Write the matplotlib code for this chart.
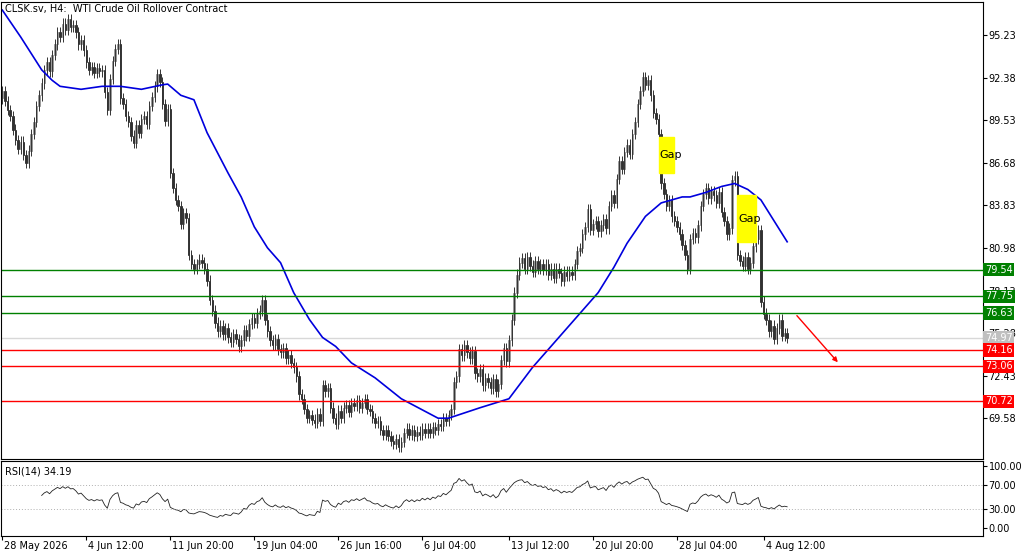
import numpy as np
import matplotlib
matplotlib.use("Agg")
import matplotlib.pyplot as plt
from matplotlib.patches import Rectangle

# H4 closes, one per bar
closes = [
    91.5, 90.8, 90.2, 89.8, 88.9, 88.2, 87.6, 88.1, 87.2, 86.7,
    87.5, 88.6, 89.4, 90.5, 91.2, 92.0, 92.9, 93.4, 92.8, 93.9,
    94.6, 95.4, 95.1, 96.0, 95.6, 96.3, 95.8, 95.9, 95.4, 94.6,
    94.9, 94.2, 93.4, 92.9, 93.1, 92.7, 93.0, 92.8, 92.9, 91.4,
    90.2, 92.3, 93.5, 94.3, 94.6, 91.0, 90.6, 89.8, 89.4, 88.5,
    88.0, 89.2, 88.7, 89.6, 89.8, 89.3, 90.5, 91.1, 91.8, 92.6,
    92.1, 90.6, 89.5, 90.3, 86.0, 85.0, 84.2, 83.8, 82.6, 83.3,
    83.0, 80.5, 79.9, 79.6, 79.9, 80.2, 80.0, 79.6, 78.8, 77.5,
    76.8, 76.0, 75.4, 75.8, 75.2, 75.6, 75.0, 74.7, 75.2, 74.9,
    74.4, 74.8, 75.5, 75.1, 75.9, 76.3, 76.0, 76.6, 76.8, 77.5,
    76.2, 75.4, 74.8, 74.5, 74.9, 74.2, 74.0, 74.3, 73.6, 73.8,
    73.3, 73.0, 72.4, 71.2, 70.9, 70.2, 69.6, 69.8, 69.5, 69.3,
    69.9, 69.4, 71.8, 71.4, 71.6, 70.3, 69.6, 69.2, 70.1, 69.6,
    70.3, 70.5, 70.0, 70.6, 70.4, 70.8, 70.3, 70.6, 70.9, 70.2,
    70.1, 69.6, 69.3, 69.4, 68.8, 68.5, 68.8, 68.4, 68.1, 67.9,
    68.2, 67.7, 68.0, 68.6, 68.9, 68.5, 68.8, 68.4, 68.7, 68.5,
    68.9, 68.6, 68.9, 68.6, 69.0, 68.8, 69.2, 69.1, 69.6, 69.4,
    69.8, 70.2, 72.0, 72.4, 74.2, 73.8, 74.5, 74.0, 73.6, 74.1,
    72.6, 72.4, 72.9, 71.8, 72.3, 72.0, 71.6, 72.2, 71.4, 71.9,
    73.5, 74.3, 73.4, 74.8, 76.2, 78.0, 79.2, 80.0, 80.3, 79.6,
    80.4, 79.8, 79.4, 80.1, 79.6, 79.9, 79.5, 79.9, 79.2, 79.6,
    79.0, 79.6, 79.3, 78.8, 79.4, 79.1, 79.4, 79.2, 79.9, 80.8,
    81.0, 81.9, 82.4, 83.6, 82.2, 82.6, 82.8, 82.1, 82.5, 82.9,
    82.3, 83.8, 84.5, 84.0, 85.6, 86.8, 86.3, 87.4, 87.9, 87.3,
    88.6, 89.4, 90.6, 91.5, 92.4, 91.9, 92.2, 91.2, 90.0, 89.6,
    88.6, 85.3, 84.6, 83.8, 84.2, 83.1, 82.8, 82.4, 81.9, 81.2,
    80.5, 79.6, 81.6, 82.0, 81.7, 82.5, 83.8, 84.6, 85.0, 84.3,
    84.8, 84.5, 84.0, 84.7, 83.4, 82.8, 81.9, 82.3, 85.5, 85.8,
    80.5, 80.1, 79.8, 80.4, 79.6, 80.0, 81.1, 81.6, 82.2, 77.4,
    76.6, 76.2, 75.4, 75.8, 74.9, 75.6, 76.2, 75.1, 75.3, 74.97,
]
first_open = 91.0

# moving average (blue), read at sample bars
ma_bars = [0, 7, 15, 19, 22, 30, 38, 45, 53, 61, 63, 68, 73, 78, 86, 91, 96,
           101, 106, 111, 117, 122, 127, 133, 142, 152, 166, 170, 182, 193,
           202, 210, 221, 227, 233, 238, 245, 251, 259, 262, 268, 274, 279,
           284, 289, 299]
ma_vals = [96.9, 95.1, 92.9, 92.2, 91.8, 91.6, 91.8, 91.8, 91.6, 91.9, 91.95,
           91.2, 90.9, 88.7, 86.0, 84.4, 82.4, 81.0, 80.0, 78.0, 76.2, 75.0,
           74.4, 73.3, 72.3, 70.9, 69.6, 69.6, 70.3, 70.9, 73.0, 74.6, 76.8,
           78.0, 79.7, 81.3, 83.1, 84.0, 84.4, 84.4, 84.7, 85.1, 85.3, 84.9,
           84.2, 81.4]

support_green = [79.54, 77.75, 76.63]
support_red = [74.16, 73.06, 70.72]
last_price = 74.97
price_ticks = [95.23, 92.38, 89.53, 86.68, 83.83, 80.98, 78.13, 75.28, 72.43, 69.58]
date_bars = [0, 32, 64, 96, 128, 160, 193, 225, 257, 290]
date_labels = ["28 May 2026", "4 Jun 12:00", "11 Jun 20:00", "19 Jun 04:00",
               "26 Jun 16:00", "6 Jul 04:00", "13 Jul 12:00", "20 Jul 20:00",
               "28 Jul 04:00", "4 Aug 12:00"]


def rsi(values, n=14):
    c = np.asarray(values)
    d = np.diff(c)
    up = np.where(d > 0, d, 0.0)
    dn = np.where(d < 0, -d, 0.0)
    au, ad = up[:n].mean(), dn[:n].mean()
    out = [np.nan] * (n + 1)
    for u, v in zip(up[n:], dn[n:]):
        au = (au * (n - 1) + u) / n
        ad = (ad * (n - 1) + v) / n
        out.append(100 - 100 / (1 + au / ad) if ad > 0 else 100)
    return np.array(out[:len(c)])


plt.rcParams["font.family"] = ["DejaVu Sans"]
fig = plt.figure(figsize=(10.24, 5.51), dpi=100)
ax = fig.add_axes([1 / 1024, 1 - 459 / 551, 982 / 1024, 457 / 551])
ax2 = fig.add_axes([1 / 1024, 1 - 536 / 551, 982 / 1024, 75 / 551])

n = len(closes)
x = np.arange(n)
c = np.array(closes)
o = np.concatenate([[first_open], c[:-1]])
hi = np.maximum(o, c) + 0.35
lo = np.minimum(o, c) - 0.35
up = c >= o
ax.vlines(x, lo, hi, color="#333333", lw=0.7)
ax.bar(x[up], np.maximum(c[up] - o[up], 0.05), bottom=o[up], width=0.6,
       color="#a0a0a0", edgecolor="#707070", lw=0.4)
ax.bar(x[~up], np.maximum(o[~up] - c[~up], 0.05), bottom=c[~up], width=0.6,
       color="black", edgecolor="black", lw=0.4)

ax.plot(ma_bars, ma_vals, color="#0000dd", lw=1.2)

xr = 373.6
for v in support_green:
    ax.axhline(v, color="#008000", lw=1)
    ax.text(1.002, v, f"{v:.2f}", transform=ax.get_yaxis_transform(),
            va="center", ha="left", fontsize=7, color="white",
            bbox=dict(fc="#008000", ec="none", pad=1.2), clip_on=False, zorder=6)
for v in support_red:
    ax.axhline(v, color="#ff0000", lw=1)
    ax.text(1.002, v, f"{v:.2f}", transform=ax.get_yaxis_transform(),
            va="center", ha="left", fontsize=7, color="white",
            bbox=dict(fc="#ff0000", ec="none", pad=1.2), clip_on=False, zorder=6)
ax.axhline(last_price, color="#d8d8d8", lw=1, zorder=0)
ax.text(1.002, last_price, f"{last_price:.2f}", transform=ax.get_yaxis_transform(),
        va="center", ha="left", fontsize=7, color="white",
        bbox=dict(fc="#c0c0c0", ec="none", pad=1.2), clip_on=False, zorder=5)

# gap boxes
for x0, x1, y0, y1 in [(250, 256, 86.0, 88.4), (280, 287, 81.4, 84.5)]:
    ax.add_patch(Rectangle((x0, y0), x1 - x0, y1 - y0, color="#ffff00", zorder=4))
    ax.text(x0 + 0.4, (y0 + y1) / 2, "Gap", fontsize=8, va="center", zorder=5)

ax.annotate("", xy=(319, 73.2), xytext=(302, 76.6),
            arrowprops=dict(arrowstyle="-|>", color="red", lw=1, mutation_scale=7))

ax.text(0.004, 0.995, "CLSK.sv, H4:  WTI Crude Oil Rollover Contract",
        transform=ax.transAxes, fontsize=7, va="top", ha="left")

ax.set_xlim(-0.5, xr)
ax.set_ylim(66.87, 97.44)
ax.yaxis.tick_right()
ax.set_yticks(price_ticks)
ax.set_yticklabels([f"{t:.2f}" for t in price_ticks])
ax.tick_params(axis="y", labelsize=7, length=3, pad=1)
ax.set_xticks([])

r = rsi(closes)
ax2.plot(x, r, color="#222222", lw=0.6)
for lvl in (70, 30):
    ax2.axhline(lvl, color="#b0b0b0", lw=0.7, ls=(0, (1, 2)))
ax2.set_xlim(-0.5, xr)
ax2.set_ylim(-12.9, 108)
ax2.yaxis.tick_right()
ax2.set_yticks([100, 70, 30, 0])
ax2.set_yticklabels(["100.00", "70.00", "30.00", "0.00"])
ax2.tick_params(axis="y", labelsize=7, length=3, pad=1)
ax2.set_xticks(date_bars)
ax2.set_xticklabels([])
ax2.tick_params(axis="x", length=3)
for b, lab in zip(date_bars, date_labels):
    ax2.text(b + 0.8, -0.07, lab, transform=ax2.get_xaxis_transform(),
             fontsize=7, ha="left", va="top")
ax2.text(0.004, 0.93, f"RSI(14) {r[-1]:.2f}", transform=ax2.transAxes,
         fontsize=7, va="top")

fig.savefig("out.png", dpi=100)
